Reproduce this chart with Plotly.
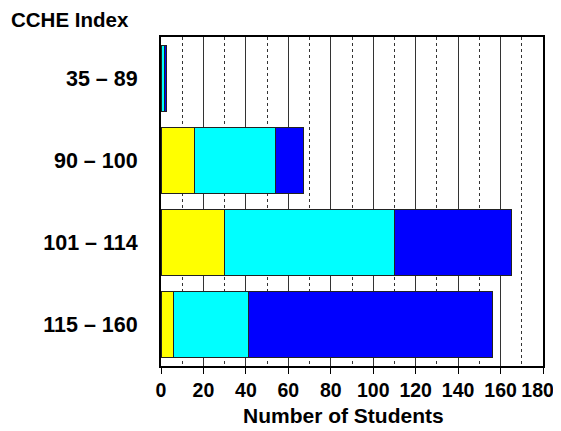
import plotly.graph_objects as go

categories = ["35 – 89", "90 – 100", "101 – 114", "115 – 160"]
yellow_vals = [0, 16, 30, 6]
cyan_vals = [1.5, 38, 80, 35]
blue_vals = [1, 13, 55, 115]
x_ticks = [0, 20, 40, 60, 80, 100, 120, 140, 160, 180]
x_tick_labels = ["0", "20", "40", "60", "80", "100", "120", "140", "160", "180\u00a0\u00a0"]

FONT = "Liberation Sans, Arial, sans-serif"
line = dict(color="#222222", width=1)

# page body has an 8px default margin; figure sized/margined to compensate
W, H = 553, 423
L, R, T, B = 153, 18, 29, 65
PW, PH = W - L - R, H - T - B

fig = go.Figure()
for vals, col in [(yellow_vals, "#FFFF00"), (cyan_vals, "#00FFFF"), (blue_vals, "#0000FF")]:
    fig.add_trace(go.Bar(y=categories, x=vals, orientation="h",
                         marker=dict(color=col, line=line), showlegend=False))

fig.update_layout(
    barmode="stack", bargap=0.2,
    width=W, height=H,
    margin=dict(l=L, r=R, t=T, b=B),
    paper_bgcolor="white", plot_bgcolor="white",
    font=dict(family=FONT, size=19, color="black"),
)
fig.update_xaxes(
    range=[0, 180], tickvals=x_ticks, ticktext=x_tick_labels,
    tickfont=dict(family=FONT, size=19.5, color="black", weight="bold"),
    ticklabeloverflow="allow",
    ticks="outside", ticklen=6, tickcolor="black", tickwidth=1,
    showgrid=True, gridcolor="#333333", gridwidth=1,
    minor=dict(dtick=10, tick0=0, showgrid=True, gridcolor="#333333", griddash="dot", gridwidth=1),
    showline=True, linecolor="black", linewidth=1.5, mirror=True,
    zeroline=False, automargin=False,
)
fig.update_yaxes(
    categoryorder="array", categoryarray=categories, autorange="reversed",
    tickfont=dict(family=FONT, size=21.5, color="black", weight="bold"),
    ticks="", ticklabelstandoff=17,
    showgrid=False, showline=True, linecolor="black", linewidth=2, mirror=True,
    automargin=False,
)
fig.add_annotation(text="<b>CCHE Index</b>", xref="paper", yref="paper",
                   x=-(L - 1) / PW, y=1 + 17 / PH, xanchor="left", yanchor="middle",
                   showarrow=False, font=dict(family=FONT, size=20.5, color="black"))
fig.add_annotation(text="<b>Number of Students</b>", xref="paper", yref="paper",
                   x=(343 - 161) / PW, y=-(416 - 366.5) / PH, xanchor="center", yanchor="middle",
                   showarrow=False, font=dict(family=FONT, size=21, color="black"))

fig.write_html("out.html")
